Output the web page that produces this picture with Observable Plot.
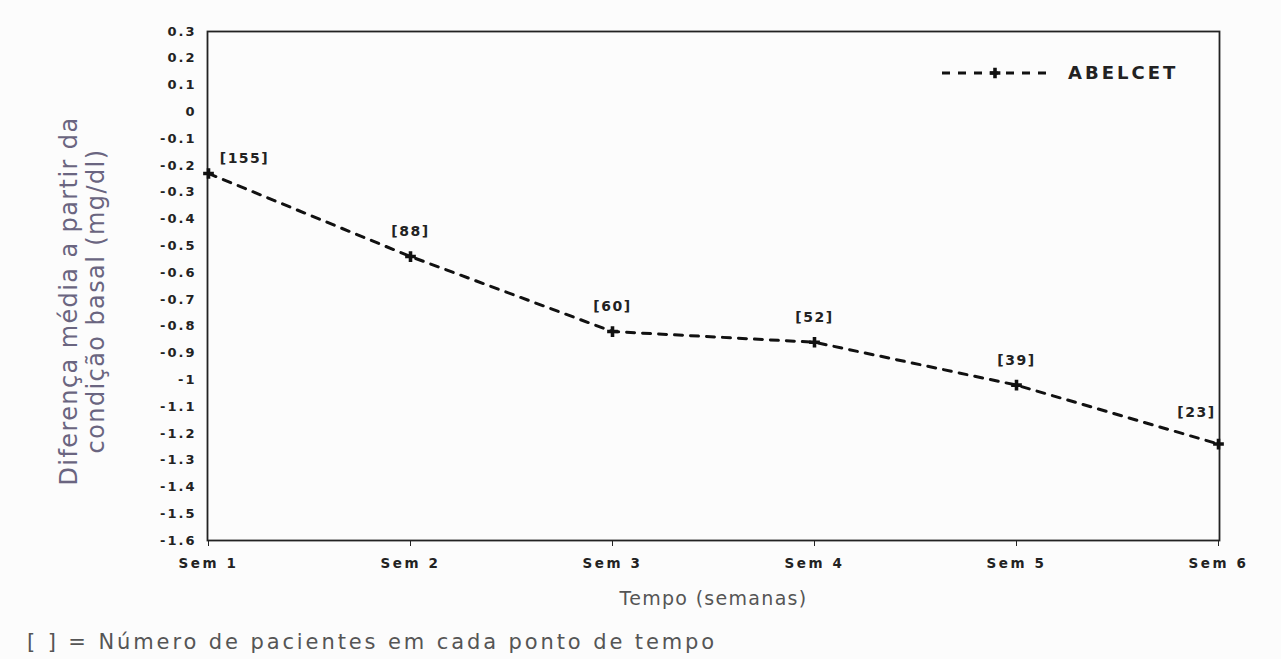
<!DOCTYPE html>
<html>
<head>
<meta charset="utf-8">
<script src="https://cdn.jsdelivr.net/npm/d3@7"></script>
<script src="https://cdn.jsdelivr.net/npm/@observablehq/plot@0.6"></script>
<style>
  html, body { margin: 0; padding: 0; background: #fcfcfc; }
  #chart svg { background: transparent; display: block; }
  #note { font-family: "DejaVu Sans", sans-serif; font-size: 21px; letter-spacing: 2.9px; color: #555; margin-left: 27px; line-height: 34px; height: 34px; white-space: nowrap; }
</style>
</head>
<body>
<div id="chart"></div>
<div id="note">[ ] = Número de pacientes em cada ponto de tempo</div>
<script>
const weeks = ["Sem 1", "Sem 2", "Sem 3", "Sem 4", "Sem 5", "Sem 6"];
const meanDiff = [-0.23, -0.54, -0.82, -0.86, -1.02, -1.24];
const patients = [155, 88, 60, 52, 39, 23];
const yTicks = [0.3, 0.2, 0.1, 0, -0.1, -0.2, -0.3, -0.4, -0.5, -0.6, -0.7, -0.8, -0.9, -1, -1.1, -1.2, -1.3, -1.4, -1.5, -1.6];
const seriesName = "ABELCET";
const yLabel = "Diferença média a partir da\ncondição basal (mg/dl)";
const xLabel = "Tempo (semanas)";

const data = weeks.map((w, i) => ({week: w, value: meanDiff[i], n: patients[i], i}));
const last = weeks.length - 1;
const font = "DejaVu Sans, sans-serif";

const plot = Plot.plot({
  width: 1281,
  height: 625,
  marginLeft: 207,
  marginRight: 62,
  marginTop: 31,
  marginBottom: 85,
  style: {fontFamily: font, background: "transparent"},
  x: {type: "point", domain: weeks, padding: 0, label: null},
  y: {domain: [-1.6, 0.3], label: null},
  marks: [
    Plot.frame({stroke: "#222", strokeWidth: 1.8}),
    Plot.axisY({ticks: yTicks, tickSize: 0, tickPadding: 11, tickFormat: d => String(Math.round(d * 10) / 10), fontSize: 13, fontWeight: "bold", fill: "#222", label: null}),
    Plot.axisX({tickSize: 6, tickPadding: 12, fontSize: 13.5, fontWeight: "bold", fill: "#222", stroke: "#222", label: null}),
    Plot.text([yLabel], {frameAnchor: "left", textAnchor: "middle", dx: -126, dy: 15, rotate: -90, fontSize: 24, fill: "#6a6580", lineHeight: 1.13}),
    Plot.text([xLabel], {frameAnchor: "bottom", dy: 64, fontSize: 19, fill: "#555"}),
    Plot.line(data, {x: "week", y: "value", stroke: "#111", strokeWidth: 3, strokeDasharray: "8,8"}),
    Plot.dot(data, {x: "week", y: "value", symbol: "cross", r: 4.5, fill: "#111"}),
    Plot.text(data.filter(d => d.i === 0), {x: "week", y: "value", text: d => `[${d.n}]`, dx: 36, dy: -15, fontSize: 14, fontWeight: "bold", fill: "#222"}),
    Plot.text(data.filter(d => d.i > 0 && d.i < last), {x: "week", y: "value", text: d => `[${d.n}]`, dy: -25, fontSize: 14, fontWeight: "bold", fill: "#222"}),
    Plot.text(data.filter(d => d.i === last), {x: "week", y: "value", text: d => `[${d.n}]`, dx: -22, dy: -32, fontSize: 14, fontWeight: "bold", fill: "#222"})
  ]
});
document.getElementById("chart").appendChild(plot);

const svg = d3.select(plot);
// widen tick / point labels like the reference lettering
svg.selectAll("g[aria-label='y-axis tick label'] text").style("letter-spacing", "2px");
svg.selectAll("g[aria-label='x-axis tick label'] text").style("letter-spacing", "2.6px");
svg.selectAll("g[aria-label='text'] text").filter(function() { return this.textContent.startsWith("["); }).style("letter-spacing", "1.5px");
svg.selectAll("g[aria-label='text'] text").filter(function() { return this.textContent === xLabel; }).style("letter-spacing", "1.3px");
svg.selectAll("g[aria-label='text'] text").filter(function() { return this.textContent.startsWith("Diferen"); }).style("letter-spacing", "1.4px");

// legend inside the frame, top right
const lg = svg.append("g");
lg.append("line").attr("x1", 942).attr("x2", 1046).attr("y1", 73).attr("y2", 73)
  .attr("stroke", "#111").attr("stroke-width", 3).attr("stroke-dasharray", "8,8");
lg.append("path").attr("d", d3.symbol(d3.symbolCross, 64)()).attr("transform", "translate(995,73)").attr("fill", "#111");
lg.append("text").attr("x", 1068).attr("y", 73).attr("dy", "0.35em").attr("text-anchor", "start")
  .attr("font-family", font).attr("font-size", 18).attr("font-weight", "bold").attr("fill", "#222")
  .style("letter-spacing", "3px").text(seriesName);
</script>
</body>
</html>
